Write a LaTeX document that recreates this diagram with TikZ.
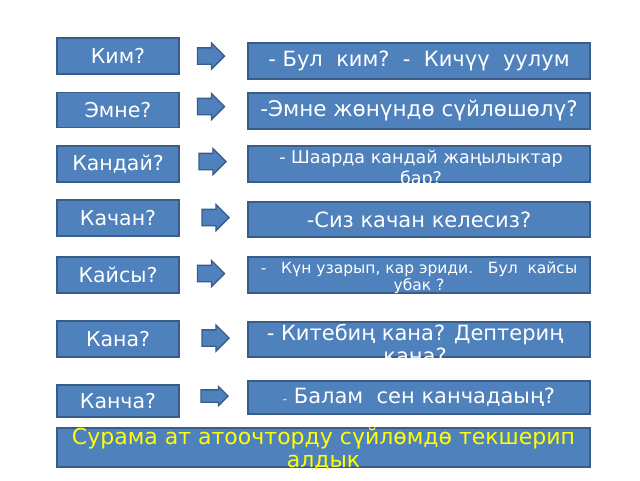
\documentclass[tikz,border=0pt]{standalone}
\usepackage{fontspec}
\setmainfont{DejaVu Sans}
\usetikzlibrary{shapes.arrows}
\definecolor{boxfill}{RGB}{79,129,189}
\definecolor{boxline}{RGB}{56,93,138}
\definecolor{answer}{RGB}{255,255,0}
\newcommand{\fsz}[2]{\fontsize{#1}{#2}\selectfont}
\tikzset{
  qbox/.style={draw=boxline, line width=1.3pt, fill=boxfill, inner sep=0pt, text=white},
  leftbox/.style={qbox, minimum width=122pt, font=\fsz{20.5}{24}},
  rightbox/.style={qbox, minimum width=342pt},
  blockarr/.style={single arrow, draw=boxline, line width=1.3pt, fill=boxfill, inner xsep=0pt, inner ysep=7.5pt, minimum height=27pt, minimum width=25pt, single arrow head extend=5pt},
  boxtext/.style={text=white, align=center, inner sep=0pt, anchor=north},
}

\begin{document}
\begin{tikzpicture}[x=1pt,y=-1pt]
\useasboundingbox[fill=white] (0,0) rectangle (640,480);
\foreach \n/\y/\h/\t in {1/56/36/Ким?, 2/110/35/Эмне?, 3/164/36/Кандай?, 4/218/36/Качан?, 5/275/36/Кайсы?, 6/339/36/Кана?, 7/401/32/Канча?}{
  \node[leftbox, minimum height=\h pt] (q\n) at (118,\y) {\t};
}
\foreach \n/\x/\y in {1/207/56, 2/207/106.5, 3/208.5/161.5, 4/211.5/217.5, 5/207/273.5, 6/211.5/338}{
  \node[blockarr] (ar\n) at (\x,\y) {};
}
\node[blockarr, inner ysep=5.5pt, minimum width=19pt, minimum height=27pt, single arrow head extend=3.5pt] (ar7) at (211.5,396) {};
\node[rightbox, minimum height=36pt, font=\fsz{21}{24}] (a1) at (419,61) {- Бул\ \ ким?\ \ -\ \ Кичүү\ \ уулум};
\node[rightbox, minimum height=36pt, font=\fsz{21.5}{25}] (a2) at (419,111) {-Эмне жөнүндө сүйлөшөлү?};
\node[rightbox, minimum height=36pt] (a3) at (419,164) {};
\node[boxtext, font=\fsz{17.5}{20.5}] (t3) at (421,150) {- Шаарда кандай жаңылыктар\\бар?};
\node[rightbox, minimum height=35pt, font=\fsz{21}{25}] (a4) at (419,219.5) {-Сиз качан келесиз?};
\node[rightbox, minimum height=36pt] (a5) at (419,275) {};
\node[boxtext, font=\fsz{15.5}{16.5}] (t5) at (419,262) {-\ \ \ Күн узарып, кар эриди.\ \ \ Бул\ \ кайсы\\убак ?};
\node[rightbox, minimum height=35pt] (a6) at (419,339.5) {};
\node[boxtext, font=\fsz{21}{23}] (t6) at (415,324) {- Китебиң кана? Дептериң\\кана?};
\node[rightbox, minimum height=33pt, font=\fsz{21}{25}] (a7) at (419,397.5) {{\fsz{12}{14}-} Балам\ \ сен канчадаың?};
\node[qbox, minimum width=533pt, minimum height=39pt] (b) at (323.5,447.5) {};
\node[boxtext, text=answer, font=\fsz{22}{23}] (tb) at (323.5,428) {Сурама ат атоочторду сүйлөмдө текшерип\\алдык};
\end{tikzpicture}
\end{document}
